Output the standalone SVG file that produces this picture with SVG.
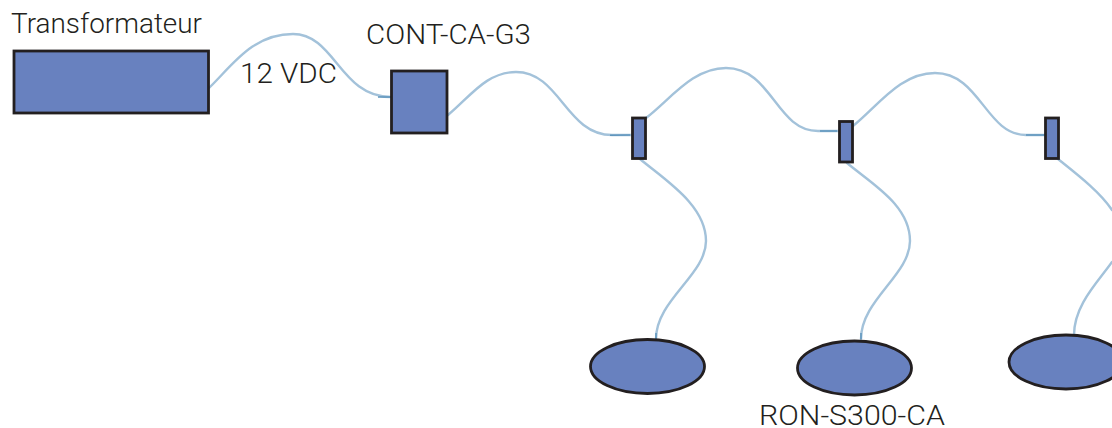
<svg xmlns="http://www.w3.org/2000/svg" width="1112" height="428" viewBox="0 0 1112 428">
<style>
.n{fill:#6881bf;stroke:#231f20;stroke-width:2.8}
.w{fill:none;stroke:#a3c2da;stroke-width:2.4;stroke-linecap:round}
.e{fill:none;stroke:#5f95bd;stroke-width:1.5}
text{font-family:"Roboto","Liberation Sans",sans-serif;font-size:27.5px;fill:#231f20;font-weight:300}
</style>
<rect width="1112" height="428" fill="#fff"/>
<g id="connectors">
<path class="w" d="M209 88C232 66 252 34 293 34C335 34 340 97 391 97"/>
<path class="w" d="M448 115C470 97 486 72 516 72C560 72 566 135 612 135L632 135"/>
<path class="w" d="M646 118C670 100 692 68 726 68C772 68 776 131 818 131L839 131"/>
<path class="w" d="M853 126C878 106 900 73 935 73C980 73 986 135 1026 135L1045 135"/>
<path class="w" d="M640 159C665 180 706 205 706 241C706 275 656 300 656 339"/>
<path class="w" d="M847 163C872 184 910 205 910 241C910 275 861 300 861 339"/>
<path class="w" d="M1058 159C1078 175 1100 192 1112 210"/>
<path class="w" d="M1112 262C1098 282 1074 305 1074 335"/>
<path class="e" d="M610 135.200L630 135M820 131L837 131M1026 135L1046 135M378 97L391 97M656 333V339M861 333V339"/>
</g>
<g id="transformateur"><rect class="n" x="14" y="51" width="194.500" height="62"/><text x="11" y="33" textLength="191" lengthAdjust="spacingAndGlyphs">Transformateur</text></g>
<text id="label-12vdc" x="240" y="83" textLength="97" lengthAdjust="spacingAndGlyphs">12 VDC</text>
<g id="cont-ca-g3"><rect class="n" x="391.500" y="71" width="55.500" height="62"/><text x="366" y="44" textLength="165" lengthAdjust="spacingAndGlyphs">CONT-CA-G3</text></g>
<g id="junction-1"><rect class="n" x="632.500" y="118" width="13" height="40.500"/></g>
<g id="junction-2"><rect class="n" x="839.500" y="121.500" width="13" height="40.500"/></g>
<g id="junction-3"><rect class="n" x="1045.500" y="118" width="13" height="40.500"/></g>
<g id="sensor-1"><ellipse class="n" cx="647.500" cy="366.500" rx="57" ry="27"/></g>
<g id="sensor-2"><ellipse class="n" cx="854.500" cy="368" rx="57" ry="27"/><text x="759" y="425" textLength="186" lengthAdjust="spacingAndGlyphs">RON-S300-CA</text></g>
<g id="sensor-3"><ellipse class="n" cx="1066" cy="362" rx="57" ry="27"/></g>
</svg>
